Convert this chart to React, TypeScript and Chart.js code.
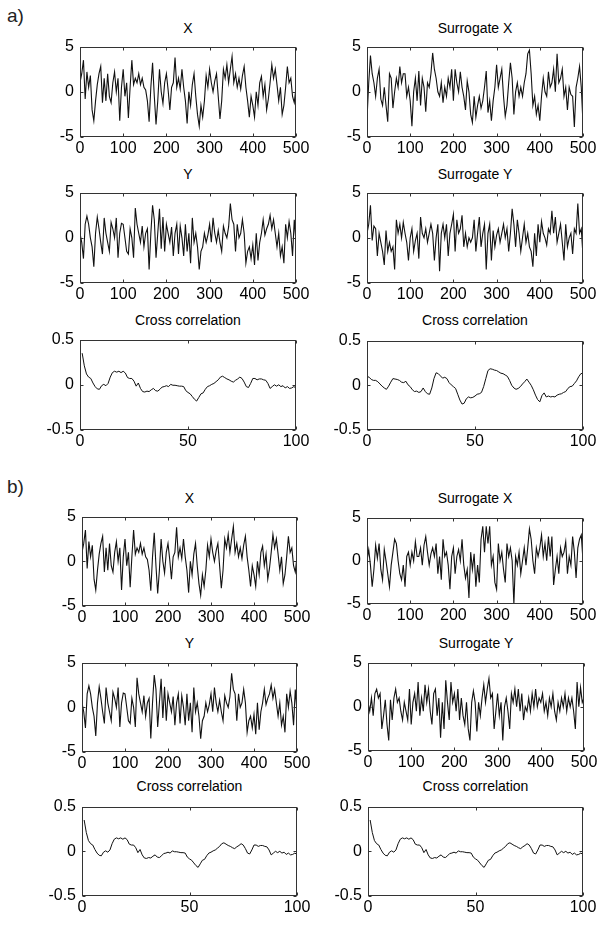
import React, { useEffect, useRef } from "react";
import { Chart, registerables } from "chart.js";

Chart.register(...registerables);
Chart.defaults.font.family = "'Liberation Sans', Arial, sans-serif";

// ---- data ----
const X_SERIES = [
  1.0, 2.0, 3.5, -0.8, 2.2, 0.5, 1.8, -2.0, -3.2, -1.0, 0.8, 2.0, 2.8, -1.2, 1.5, -1.0, 2.0, -0.5, -1.2, 1.0,
  2.2, 0.0, 1.5, -3.2, 0.5, 2.5, -0.5, 1.0, -2.9, 0.5, 3.5, 0.8, 1.5, 1.0, 2.0, 0.8, 1.5, 0.5, 0.2, -1.0,
  -3.3, 0.5, 3.2, -0.5, -3.6, -1.0, 2.5, 0.0, -1.3, 1.0, 2.0, 0.2, -2.0, 0.5, 1.0, 3.8, 0.5, 1.5, 0.3, 2.5,
  0.5, -1.0, -3.5, 0.0, -1.5, 0.8, 2.0, -0.5, -2.5, -3.8, -1.5, -2.8, -1.0, 1.8, 0.5, 2.5, 1.0, 0.0, 1.2, 2.0,
  -0.5, -3.0, -1.0, 2.5, 1.5, 3.0, 1.0, 2.5, 3.9, 1.0, 2.0, 0.5, 1.5, 0.3, 1.8, 2.8, 0.5, -1.0, -2.8, -0.5,
  -1.5, -2.8, 0.0, -1.5, 1.0, 1.7, -0.5, 0.8, -2.0, -0.8, 1.0, 3.0, 1.5, 2.5, 0.8, -1.0, 0.5, -2.5, -1.5, 0.5,
  2.8, 1.0, 1.5, -0.5, -1.2, 0.5,
];
const Y_SERIES = [
  0.5, -0.5, -2.3, 1.5, 2.4, 1.5, 0.0, -1.0, -3.2, 0.5, 2.3, 1.0, -0.5, -1.8, 2.2, 0.5, -0.5, -1.5, 1.7, 1.0,
  0.0, 2.2, -2.2, 0.5, 1.6, 1.5, 0.0, -1.5, -1.8, 1.0, 0.0, -2.2, 3.3, 1.5, 0.5, -0.5, 1.3, -1.0, 0.5, 1.0,
  -3.5, 0.5, 3.6, 2.0, -2.2, 0.5, 3.2, -1.2, 2.3, -1.5, 1.5, 0.5, -0.5, 1.2, -2.0, 0.5, 1.5, -1.8, 1.3, 0.0,
  -2.0, 1.5, -1.5, 0.5, -2.8, 2.2, -0.5, 0.5, -1.0, -3.5, -1.5, -1.0, 0.5, -0.5, 0.3, 1.5, -0.5, 2.2, 0.5, -0.5,
  0.8, -0.5, -1.5, 1.3, 0.5, 0.0, 1.2, 3.8, 2.0, 1.5, -1.5, 1.5, 0.0, 0.5, 2.0, 0.5, -2.8, -1.5, -1.0, -2.3,
  -0.8, -3.0, 0.5, -2.5, -0.5, 0.5, 2.0, 0.3, 1.0, 1.5, 2.5, 1.0, 2.0, 0.5, -1.0, 0.5, -2.0, -1.0, -2.8, 1.5,
  0.0, 1.8, 0.5, -2.0, 2.0, -0.5,
];
const SURR_X_A = [
  -3.0, 1.0, 4.0, 2.0, 1.0, -0.5, 1.5, 2.5, -0.8, -1.5, 0.5, -1.5, -3.3, 2.0, 1.5, -1.8, 0.0, 1.5, 0.5, 2.8,
  1.0, 2.0, 2.0, -0.5, 0.5, -1.0, -3.8, 0.0, 1.5, -1.0, 2.3, -1.5, 1.5, 0.5, -2.2, 1.0, 0.5, 2.0, 4.3, 2.5,
  1.5, 0.0, -0.5, 1.0, -1.2, 0.5, -0.5, 1.5, 0.5, 2.5, -1.0, 2.5, 1.0, 0.0, 2.2, 0.5, -0.5, -2.0, 1.2, 0.0,
  -2.5, -3.4, -0.5, -2.8, -1.5, -0.5, -1.8, -1.0, 0.5, 2.3, -2.3, -1.0, -3.2, -1.0, 0.5, 3.0, 0.5, 1.5, 2.5, -0.5,
  -2.7, -1.5, 1.0, 3.2, 1.5, -2.5, 0.0, 1.0, -0.5, 0.5, -0.5, 1.0, 2.0, 4.2, 4.6, 2.0, -1.5, -0.5, -2.5, -1.5,
  -3.2, -0.5, 1.5, 0.0, -0.5, 2.2, 0.5, 1.0, 2.5, 0.0, 4.2, 1.0, 1.5, 2.5, -0.5, 0.5, -2.0, 0.5, -0.3, -0.5,
  -3.9, 0.5, 1.5, 2.8, 0.5, -3.5,
];
const SURR_Y_A = [
  0.5, 1.5, 3.6, -0.3, 1.3, 1.0, -2.0, 0.5, -0.5, -1.5, -3.0, 0.8, -1.5, -0.5, -1.5, -1.0, -3.5, 2.0, 0.5, 1.5,
  0.0, 1.7, 0.5, -0.5, -2.5, 0.0, 1.0, -1.5, -0.3, 0.5, -2.3, 2.3, 0.5, 0.0, 1.0, -0.5, 0.5, 1.5, 0.5, -2.5,
  0.0, 1.5, -3.7, 0.5, 1.5, 0.0, 1.5, -2.0, 0.5, 1.5, 2.6, -1.5, 2.0, 0.5, 1.0, 2.5, -1.0, 0.5, -1.0, 0.0,
  -0.5, 0.0, 2.0, -1.5, 0.5, 2.3, -1.0, 0.5, 1.5, -3.5, 0.5, 1.5, -2.5, 0.8, -1.0, 0.3, 1.0, -0.5, 0.5, 1.5,
  0.0, 1.0, -1.5, 0.5, 3.2, 1.5, -1.0, 2.0, 0.5, -1.5, 0.0, 1.5, -0.5, 0.5, -1.0, -1.5, -3.2, 0.5, -2.0, 1.5,
  -0.5, 1.8, 0.5, 0.0, -0.8, 1.0, 0.5, 3.0, 0.5, 2.3, -0.5, 0.5, 1.5, -0.5, -2.5, 1.5, -1.0, 0.0, 0.5, -1.8,
  1.0, 0.5, 3.8, 0.5, 1.0, -2.0,
];
const SURR_X_B = [
  0.0, 1.3, -0.5, -3.0, -1.0, 1.8, 0.3, 2.0, -1.0, -2.2, 1.3, 0.0, -1.5, -3.0, -0.5, 1.0, 2.5, 2.0, 0.0, -1.5,
  -2.2, -0.5, -3.0, 0.5, 1.0, -0.5, 1.0, 0.0, 2.2, 0.5, 0.5, 1.5, -0.5, 1.8, 2.8, 1.0, -0.5, 0.8, 1.5, 0.5,
  2.0, -1.5, 0.5, -2.2, 2.5, 0.5, 1.0, -0.5, -3.3, 0.5, 1.5, -1.5, 0.5, 1.3, 0.0, 2.5, -0.5, -2.0, -1.0, -4.3,
  1.0, -1.0, 0.8, -3.0, -0.5, -2.5, 2.5, 4.0, 1.0, 4.0, 2.0, 4.0, -0.5, 0.5, -2.5, -3.3, 2.0, 0.0, 1.0, -1.0,
  -2.5, 2.0, 0.5, 1.5, 0.0, -5.0, 0.5, -0.5, 1.0, -1.5, 0.0, 1.5, -0.5, 1.5, 3.7, 2.5, 0.0, -1.5, 1.5, 0.5,
  1.5, 3.0, 0.5, 2.0, 0.0, 2.8, 0.5, 2.8, -2.8, -1.0, 0.5, -1.5, 1.5, 0.5, 1.0, 2.2, -1.5, 0.5, -0.5, 2.8,
  1.0, -2.0, 1.5, 2.5, 3.0, 0.0,
];
const SURR_Y_B = [
  0.5, -0.5, 1.0, -1.0, 1.5, 2.0, 1.0, 1.5, -2.5, -1.0, 0.8, -2.0, -3.8, 0.8, -1.5, 1.0, 2.0, 0.5, 1.0, -0.5,
  -1.5, 0.5, -0.5, -1.5, 2.0, -2.0, 0.5, 1.5, -0.5, 2.8, -1.0, 1.0, -0.5, 2.5, 0.5, 2.0, -0.5, -2.0, 1.5, 2.0,
  -1.0, 1.0, -3.5, 0.5, -2.5, 3.0, 0.5, -1.5, 2.8, 0.5, 1.5, -0.5, 2.0, -1.5, 1.0, -1.0, -2.0, 0.5, -2.5, -3.8,
  0.5, 1.8, 0.5, -2.8, 0.5, -1.0, 1.0, 2.5, 0.5, 2.0, 3.2, 1.0, 1.5, -2.5, -0.5, 1.5, -1.0, 0.5, -3.8, 0.0,
  1.0, -0.5, -2.5, 1.5, 0.5, 2.0, 0.0, 2.0, -0.5, 1.5, -1.5, 0.0, -0.5, 1.0, -0.5, 1.5, 0.0, 2.0, 0.0, 1.0,
  0.5, 1.5, -0.5, 0.5, -1.0, 1.0, 0.0, 1.5, -0.5, -1.5, 0.5, -0.5, 1.0, 0.0, 1.5, -0.5, 1.0, 0.0, 1.0, -0.5,
  -2.5, 2.8, 0.0, 2.2, 0.5, 1.0,
];
const CC_1_FIRST_LAG = 1;
const CC_1 = [
  0.35, 0.21, 0.12, 0.085, 0.07, 0.02, -0.02, -0.045, -0.05, -0.01,
  0.005, -0.01, 0.015, 0.085, 0.135, 0.15, 0.14, 0.15, 0.135, 0.15,
  0.13, 0.08, 0.07, 0.07, 0.04, -0.015, 0.02, -0.04, -0.075, -0.08,
  -0.07, -0.075, -0.055, -0.04, -0.065, -0.07, -0.05, -0.025, -0.02, -0.01,
  -0.02, 0.005, -0.005, -0.005, -0.01, -0.015, -0.015, -0.02, -0.065, -0.085,
  -0.1, -0.13, -0.16, -0.18, -0.14, -0.1, -0.09, -0.05, -0.02, -0.01,
  0.005, 0.015, 0.035, 0.055, 0.085, 0.095, 0.08, 0.065, 0.055, 0.04,
  0.03, 0.05, 0.065, 0.085, 0.07, 0.03, -0.02, -0.03, 0.015, 0.07,
  0.07, 0.055, 0.065, 0.065, 0.055, 0.05, 0.015, -0.04, -0.02, 0.0,
  -0.015, 0.0, -0.02, -0.01, -0.035, -0.02, -0.04, -0.035, -0.02, -0.035,
];
const CC_2_FIRST_LAG = 0;
const CC_2 = [
  0.1, 0.09, 0.065, 0.055, 0.055, 0.04, 0.015, -0.01, -0.03, -0.045,
  -0.01, 0.035, 0.075, 0.07, 0.065, 0.055, 0.035, 0.03, 0.045, 0.005,
  -0.015, -0.05, -0.07, -0.065, -0.08, -0.07, -0.03, -0.07, -0.095, -0.1,
  -0.03, 0.075, 0.14, 0.13, 0.105, 0.08, 0.09, 0.075, 0.03, 0.005,
  -0.015, -0.035, -0.1, -0.165, -0.21, -0.2, -0.15, -0.13, -0.14, -0.135,
  -0.12, -0.1, -0.095, -0.08, -0.015, 0.075, 0.165, 0.185, 0.18, 0.17,
  0.165, 0.15, 0.135, 0.13, 0.115, 0.1, 0.055, 0.0, -0.03, -0.045,
  -0.035, -0.015, 0.015, 0.04, 0.07, 0.035, 0.0, -0.05, -0.11, -0.16,
  -0.185, -0.115, -0.085, -0.13, -0.12, -0.13, -0.125, -0.13, -0.11, -0.1,
  -0.095, -0.08, -0.07, -0.035, -0.015, -0.01, 0.02, 0.05, 0.095, 0.13,
  0.135,
];

const NOISE_X_TICKS = [0, 100, 200, 300, 400, 500];
const NOISE_Y_TICKS = [-5, 0, 5];
const CC_X_TICKS = [0, 50, 100];
const CC_Y_TICKS = [-0.5, 0, 0.5];

// ---- layout ----
const PAD_L = 50;
const PAD_T = 12;
const PAD_R = 20;
const PAD_B = 26;
const TICK_FONT = 16;
const TITLE_FONT = 14;

type Kind = "noise" | "cc";
type PanelCfg = {
  title: string;
  series: number[];
  kind: Kind;
  firstLag?: number;
  box: [number, number, number, number];
  titleY: number;
};

const PANELS: PanelCfg[] = [
  { title: "X", series: X_SERIES, kind: "noise", box: [80, 43, 296, 137], titleY: 28 },
  { title: "Surrogate X", series: SURR_X_A, kind: "noise", box: [367, 43, 583, 137], titleY: 28 },
  { title: "Y", series: Y_SERIES, kind: "noise", box: [80, 189, 296, 283], titleY: 174 },
  { title: "Surrogate Y", series: SURR_Y_A, kind: "noise", box: [367, 189, 583, 283], titleY: 174 },
  { title: "Cross correlation", series: CC_1, kind: "cc", firstLag: CC_1_FIRST_LAG, box: [80, 336, 296, 430], titleY: 320 },
  { title: "Cross correlation", series: CC_2, kind: "cc", firstLag: CC_2_FIRST_LAG, box: [367, 337, 583, 430], titleY: 320 },
  { title: "X", series: X_SERIES, kind: "noise", box: [82, 513, 297, 606], titleY: 498 },
  { title: "Surrogate X", series: SURR_X_B, kind: "noise", box: [367, 514, 583, 604], titleY: 498 },
  { title: "Y", series: Y_SERIES, kind: "noise", box: [82, 659, 297, 752], titleY: 643 },
  { title: "Surrogate Y", series: SURR_Y_B, kind: "noise", box: [368, 659, 584, 751], titleY: 643 },
  { title: "Cross correlation", series: CC_1, kind: "cc", firstLag: CC_1_FIRST_LAG, box: [82, 803, 297, 896], titleY: 786 },
  { title: "Cross correlation", series: CC_1, kind: "cc", firstLag: CC_1_FIRST_LAG, box: [368, 803, 583, 896], titleY: 786 },
];

const framePlugin = {
  id: "frameBox",
  afterDatasetsDraw(chart: any) {
    const { ctx, chartArea: a, scales } = chart;
    const l = Math.round(a.left) + 0.5;
    const t = Math.round(a.top) + 0.5;
    const r = Math.round(a.right) - 0.5;
    const b = Math.round(a.bottom) - 0.5;
    ctx.save();
    ctx.strokeStyle = "#333";
    ctx.lineWidth = 1;
    ctx.strokeRect(l, t, r - l, b - t);
    const tl = 3;
    ctx.beginPath();
    for (const tk of scales.x.ticks) {
      const px = Math.round(scales.x.getPixelForValue(tk.value)) + 0.5;
      ctx.moveTo(px, b);
      ctx.lineTo(px, b - tl);
      ctx.moveTo(px, t);
      ctx.lineTo(px, t + tl);
    }
    for (const tk of scales.y.ticks) {
      const py = Math.round(scales.y.getPixelForValue(tk.value)) + 0.5;
      ctx.moveTo(l, py);
      ctx.lineTo(l + tl, py);
      ctx.moveTo(r, py);
      ctx.lineTo(r - tl, py);
    }
    ctx.stroke();
    ctx.restore();
  },
};

function Panel({ cfg }: { cfg: PanelCfg }) {
  const ref = useRef<HTMLCanvasElement>(null);
  const [l, t, r, b] = cfg.box;
  const W = r - l + PAD_L + PAD_R;
  const H = b - t + PAD_T + PAD_B;

  useEffect(() => {
    const isNoise = cfg.kind === "noise";
    const xTicks = isNoise ? NOISE_X_TICKS : CC_X_TICKS;
    const yTicks = isNoise ? NOISE_Y_TICKS : CC_Y_TICKS;
    const n = cfg.series.length;
    const xMax = xTicks[xTicks.length - 1];
    const points = cfg.series.map((v, i) => ({
      x: isNoise ? (i * xMax) / (n - 1) : (cfg.firstLag ?? 0) + i,
      y: v,
    }));
    const tickFont = { size: TICK_FONT };
    const chart = new Chart(ref.current as HTMLCanvasElement, {
      type: "line",
      data: {
        datasets: [
          {
            data: points,
            borderColor: "#111",
            borderWidth: isNoise ? 1.1 : 1,
            pointRadius: 0,
            tension: 0,
            fill: false,
          },
        ],
      },
      options: {
        animation: false,
        responsive: false,
        maintainAspectRatio: false,
        devicePixelRatio: 1,
        layout: { padding: { left: 0, top: PAD_T, right: PAD_R, bottom: 0 } },
        plugins: { legend: { display: false }, tooltip: { enabled: false }, title: { display: false } },
        scales: {
          x: {
            type: "linear",
            min: xTicks[0],
            max: xMax,
            afterBuildTicks: (s: any) => {
              s.ticks = xTicks.map((v) => ({ value: v }));
            },
            afterFit: (s: any) => {
              s.height = PAD_B;
            },
            ticks: {
              font: tickFont,
              color: "#000",
              padding: 2,
              maxRotation: 0,
              autoSkip: false,
              callback: (v: any) => String(v),
            },
            grid: { display: false, drawTicks: false },
            border: { display: false },
          },
          y: {
            type: "linear",
            min: yTicks[0],
            max: yTicks[yTicks.length - 1],
            afterBuildTicks: (s: any) => {
              s.ticks = yTicks.map((v) => ({ value: v }));
            },
            afterFit: (s: any) => {
              s.width = PAD_L;
            },
            ticks: {
              font: tickFont,
              color: "#000",
              padding: 6,
              autoSkip: false,
              callback: (v: any) => String(v),
            },
            grid: { display: false, drawTicks: false },
            border: { display: false },
          },
        },
      },
      plugins: [framePlugin],
    } as any);
    return () => chart.destroy();
  }, [cfg]);

  return (
    <>
      <div
        style={{
          position: "absolute",
          left: l,
          width: r - l,
          top: cfg.titleY - 8,
          height: 16,
          lineHeight: "16px",
          textAlign: "center",
          fontFamily: "'Liberation Sans', Arial, sans-serif",
          fontSize: TITLE_FONT,
          color: "#000",
          whiteSpace: "nowrap",
        }}
      >
        {cfg.title}
      </div>
      <div style={{ position: "absolute", left: l - PAD_L, top: t - PAD_T, width: W, height: H }}>
        <canvas ref={ref} width={W} height={H} style={{ width: W, height: H, display: "block" }} />
      </div>
    </>
  );
}

const labelStyle: React.CSSProperties = {
  position: "absolute",
  fontFamily: "'Liberation Sans', Arial, sans-serif",
  fontSize: 19,
  lineHeight: "22px",
  color: "#222",
};

export default function App() {
  return (
    <div style={{ position: "absolute", left: 0, top: 0, width: 604, height: 928, background: "#fff" }}>
      <div style={{ ...labelStyle, left: 7, top: 5 }}>a)</div>
      <div style={{ ...labelStyle, left: 7, top: 476 }}>b)</div>
      {PANELS.map((p, i) => (
        <Panel key={i} cfg={p} />
      ))}
    </div>
  );
}
